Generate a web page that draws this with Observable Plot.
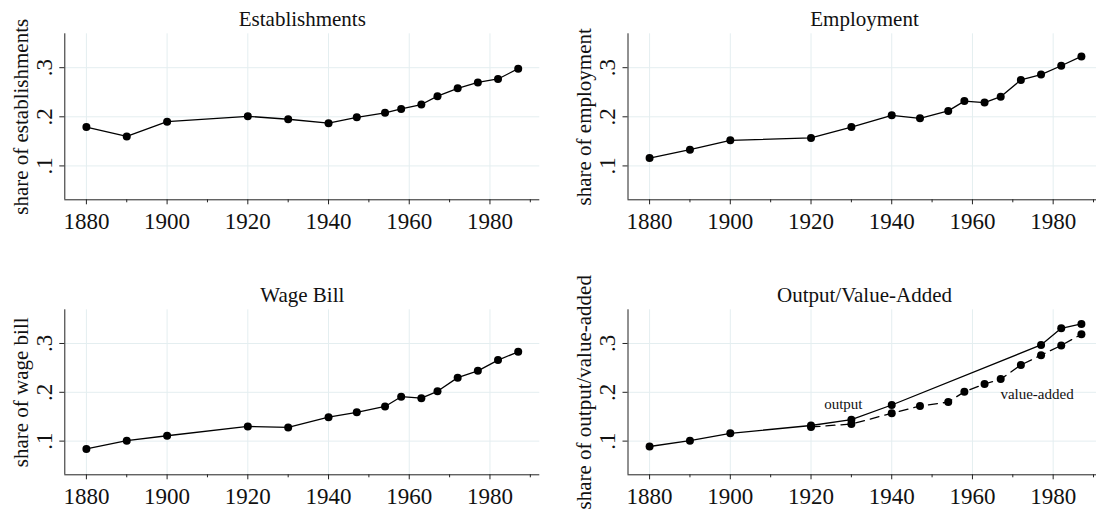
<!DOCTYPE html>
<html>
<head>
<meta charset="utf-8">
<script src="https://cdn.jsdelivr.net/npm/d3@7"></script>
<script src="https://cdn.jsdelivr.net/npm/@observablehq/plot@0.6"></script>
<style>
  html, body { margin: 0; padding: 0; background: #fff; }
  #wrap { position: relative; width: 1096px; height: 511px; overflow: hidden; background: #fff; }
  #wrap svg { position: absolute; background: transparent; }
</style>
</head>
<body>
<div id="wrap"></div>
<script>
// ---- data ----
const years = [1880, 1890, 1900, 1920, 1930, 1940, 1947, 1954, 1958, 1963, 1967, 1972, 1977, 1982, 1987];
const establishments = [0.179, 0.160, 0.190, 0.201, 0.195, 0.187, 0.199, 0.208, 0.216, 0.225, 0.242, 0.258, 0.270, 0.277, 0.298];
const employment = [0.116, 0.133, 0.152, 0.157, 0.179, 0.203, 0.197, 0.212, 0.232, 0.229, 0.241, 0.275, 0.286, 0.304, 0.323];
const wageBill = [0.084, 0.101, 0.111, 0.130, 0.128, 0.149, 0.159, 0.171, 0.191, 0.188, 0.202, 0.230, 0.244, 0.266, 0.283];
const outputYears = [1880, 1890, 1900, 1920, 1930, 1940, 1977, 1982, 1987];
const output = [0.089, 0.101, 0.116, 0.132, 0.144, 0.174, 0.297, 0.331, 0.340];
const vaYears = [1920, 1930, 1940, 1947, 1954, 1958, 1963, 1967, 1972, 1977, 1982, 1987];
const valueAdded = [0.129, 0.135, 0.157, 0.172, 0.180, 0.201, 0.217, 0.227, 0.256, 0.276, 0.296, 0.319];

const titles = ["Establishments", "Employment", "Wage Bill", "Output/Value-Added"];
const yLabels = ["share of establishments", "share of employment", "share of wage bill", "share of output/value-added"];
const xMajorTicks = [1880, 1900, 1920, 1940, 1960, 1980];
const xMinorTicks = [1890, 1910, 1930, 1950, 1970, 1990];
const yTicks = [0.1, 0.2, 0.3];
const annotText = ["output", "value-added"];
const annotYear = [1928, 1976];
const annotValue = [0.175, 0.197];

const xDomain = [1874.65, 1992.35];
const yDomain = [0.031, 0.369];
const FONT = "'Liberation Serif', 'Times New Roman', serif";
const GRID = "#e4eef0";

function toRows(xs, ys) { return xs.map((x, i) => ({x, y: ys[i]})); }

function panel({title, ylabel, series, annots, left, top, width, height, mL, mR, mT, mB, titleDx}) {
  const marks = [
    Plot.gridX(xMajorTicks, {stroke: GRID, strokeOpacity: 1, strokeWidth: 1}),
    Plot.gridY(yTicks, {stroke: GRID, strokeOpacity: 1, strokeWidth: 1}),
    Plot.axisX(xMinorTicks, {tickSize: 3, text: null, label: null, stroke: "#222"}),
    Plot.axisX(xMajorTicks, {tickSize: 5, tickPadding: 8, fontSize: 23, label: null, stroke: "#222", fill: "#111",
      tickFormat: d => String(d)}),
    Plot.axisY(yTicks, {tickSize: 5, tickPadding: 8, tickRotate: -90, fontSize: 23, label: null,
      tickFormat: d => "." + Math.round(d * 10), stroke: "#222", fill: "#111"}),
    Plot.ruleY([yDomain[0]], {stroke: "#222", strokeWidth: 1}),
    Plot.ruleX([xDomain[0]], {stroke: "#222", strokeWidth: 1}),
    Plot.text([title], {frameAnchor: "top-left", dx: titleDx, dy: -7.5, lineAnchor: "bottom", textAnchor: "middle",
      fontSize: 21, fill: "#111"}),
    Plot.text([ylabel], {frameAnchor: "left", rotate: -90, dx: -37, lineAnchor: "bottom", textAnchor: "middle",
      fontSize: 21, fill: "#111"})
  ];
  for (const s of series) {
    const rows = toRows(s.x, s.y);
    marks.push(Plot.line(rows, {x: "x", y: "y", stroke: "#000", strokeWidth: 1.3, strokeDasharray: s.dash || null}));
    marks.push(Plot.dot(rows, {x: "x", y: "y", r: 4, fill: "#000", stroke: "none"}));
  }
  if (annots) {
    marks.push(Plot.text(annots.text.map((t, i) => ({t, x: annots.x[i], y: annots.y[i]})),
      {x: "x", y: "y", text: "t", fontSize: 15, fill: "#111", textAnchor: "middle"}));
  }
  const svg = Plot.plot({
    width, height,
    marginLeft: mL, marginRight: mR, marginTop: mT, marginBottom: mB,
    style: {fontFamily: FONT, background: "transparent", overflow: "visible"},
    x: {domain: xDomain, axis: null},
    y: {domain: yDomain, axis: null},
    marks
  });
  svg.style.left = left + "px";
  svg.style.top = top + "px";
  return svg;
}

const wrap = document.getElementById("wrap");
const L = {left: 0, width: 548, mL: 64.3, mR: 8.7, titleDx: 237.5};
const R = {left: 548, width: 560, mL: 79.5, mR: 5.5, titleDx: 236.5};
const T = {top: 0, height: 255, mT: 33.3, mB: 55.7};
const B = {top: 255, height: 256, mT: 54.3, mB: 36.7};

wrap.appendChild(panel({...L, ...T, title: titles[0], ylabel: yLabels[0], series: [{x: years, y: establishments}]}));
wrap.appendChild(panel({...R, ...T, title: titles[1], ylabel: yLabels[1], series: [{x: years, y: employment}]}));
wrap.appendChild(panel({...L, ...B, title: titles[2], ylabel: yLabels[2], series: [{x: years, y: wageBill}]}));
wrap.appendChild(panel({...R, ...B, title: titles[3], ylabel: yLabels[3],
  series: [{x: outputYears, y: output}, {x: vaYears, y: valueAdded, dash: "9,6"}],
  annots: {text: annotText, x: annotYear, y: annotValue}}));
</script>
</body>
</html>
